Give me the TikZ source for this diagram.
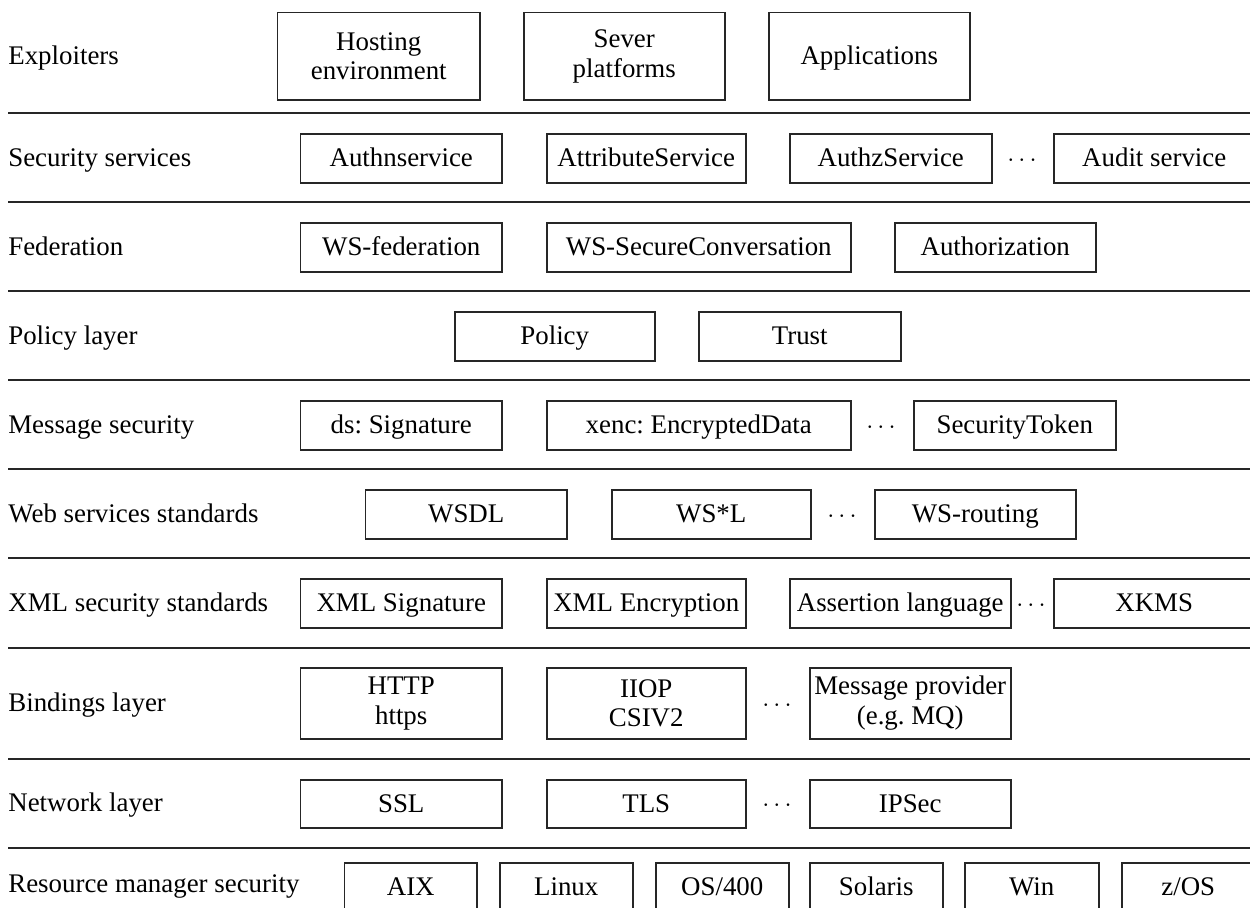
\documentclass[tikz,border=0pt]{standalone}
\usepackage{fontspec}
\setmainfont{Liberation Serif}
\frenchspacing
\begin{document}
\begin{tikzpicture}[x=0.02cm, y=-0.02cm,
  every node/.style={font=\fontsize{15.3}{17}\selectfont},
  sepline/.style={draw=black!85, line width=0.04cm},
  cell/.style 2 args={draw=black!85, line width=0.85pt, anchor=north west,
    inner sep=0pt, align=center, minimum width=#1*0.02cm, minimum height=#2*0.02cm},
  oneline/.style={text height=12pt, text depth=2.2pt},
  layerlabel/.style={anchor=west, inner sep=0pt, oneline},
  gap/.style={inner sep=0pt, oneline}]
\useasboundingbox (0,0) rectangle (1250,907);
\clip (0,0) rectangle (1250,907);

% layer separators
\foreach \yy in {113,202,291,380,469,558,648,759,848}
  \draw[sepline] (8,\yy) -- (1250,\yy);

% layer names
\node[layerlabel] (lExp) at (8,55.5) {Exploiters};
\node[layerlabel] (lSec) at (8,157.5) {Security services};
\node[layerlabel] (lFed) at (8,246.5) {Federation};
\node[layerlabel] (lPol) at (8,335.5) {Policy layer};
\node[layerlabel] (lMsg) at (8,424.5) {Message security};
\node[layerlabel] (lWeb) at (8,513.5) {Web services standards};
\node[layerlabel] (lXml) at (8,602.5) {XML security standards};
\node[layerlabel] (lBin) at (8,702.5) {Bindings layer};
\node[layerlabel] (lNet) at (8,803) {Network layer};
\node[layerlabel] (lRes) at (8,884) {Resource manager security};

% exploiters
\node[cell={202}{87}] (hosting) at (277,12) {Hosting\\environment};
\node[cell={201}{87}] (sever) at (523,12) {Sever\\platforms};
\node[cell={201}{87}, oneline] (apps) at (768,12) {Applications};

% security services
\node[cell={201}{49}, oneline] (authn) at (300,133) {Authnservice};
\node[cell={199}{49}, oneline] (attr) at (546,133) {AttributeService};
\node[cell={202}{49}, oneline] (authz) at (789,133) {AuthzService};
\node[gap] (dSec) at (1022,157.5) {$\cdots$};
\node[cell={201}{49}, oneline] (audit) at (1053,133) {Audit service};

% federation
\node[cell={201}{49}, oneline] (wsfed) at (300,222) {WS-federation};
\node[cell={304}{49}, oneline] (wssc) at (546,222) {WS-SecureConversation};
\node[cell={201}{49}, oneline] (authzn) at (894,222) {Authorization};

% policy layer
\node[cell={200}{49}, oneline] (policy) at (454,311) {Policy};
\node[cell={202}{49}, oneline] (trust) at (698,311) {Trust};

% message security
\node[cell={201}{49}, oneline] (dssig) at (300,400) {ds: Signature};
\node[cell={304}{49}, oneline] (xenc) at (546,400) {xenc: EncryptedData};
\node[gap] (dMsg) at (881,424.5) {$\cdots$};
\node[cell={202}{49}, oneline] (sectok) at (913,400) {SecurityToken};

% web services standards
\node[cell={201}{49}, oneline] (wsdl) at (365,489) {WSDL};
\node[cell={199}{49}, oneline] (wsstar) at (611,489) {WS*L};
\node[gap] (dWeb) at (842,513.5) {$\cdots$};
\node[cell={201}{49}, oneline] (wsrout) at (874,489) {WS-routing};

% xml security standards
\node[cell={201}{49}, oneline] (xmlsig) at (300,578) {XML Signature};
\node[cell={199}{49}, oneline] (xmlenc) at (546,578) {XML Encryption};
\node[cell={221}{49}, oneline] (assert) at (789,578) {Assertion language};
\node[gap] (dXml) at (1031,602.5) {$\cdots$};
\node[cell={201}{49}, oneline] (xkms) at (1053,578) {XKMS};

% bindings layer
\node[cell={201}{71}] (http) at (300,667) {HTTP\\https};
\node[cell={199}{71}] (iiop) at (546,667) {IIOP\\CSIV2};
\node[gap] (dBin) at (777,702.5) {$\cdots$};
\node[cell={201}{71}] (mqprov) at (809,667) {Message provider\\(e.g. MQ)};

% network layer
\node[cell={201}{48}, oneline] (ssl) at (300,779) {SSL};
\node[cell={199}{48}, oneline] (tls) at (546,779) {TLS};
\node[gap] (dNet) at (777,803) {$\cdots$};
\node[cell={201}{48}, oneline] (ipsec) at (809,779) {IPSec};

% resource manager security
\node[cell={132}{49}, oneline] (aix) at (344,862) {AIX};
\node[cell={133}{49}, oneline] (linux) at (499,862) {Linux};
\node[cell={133}{49}, oneline] (os400) at (655,862) {OS/400};
\node[cell={133}{49}, oneline] (solaris) at (809,862) {Solaris};
\node[cell={134}{49}, oneline] (win) at (964,862) {Win};
\node[cell={133}{49}, oneline] (zos) at (1121,862) {z/OS};
\end{tikzpicture}
\end{document}
